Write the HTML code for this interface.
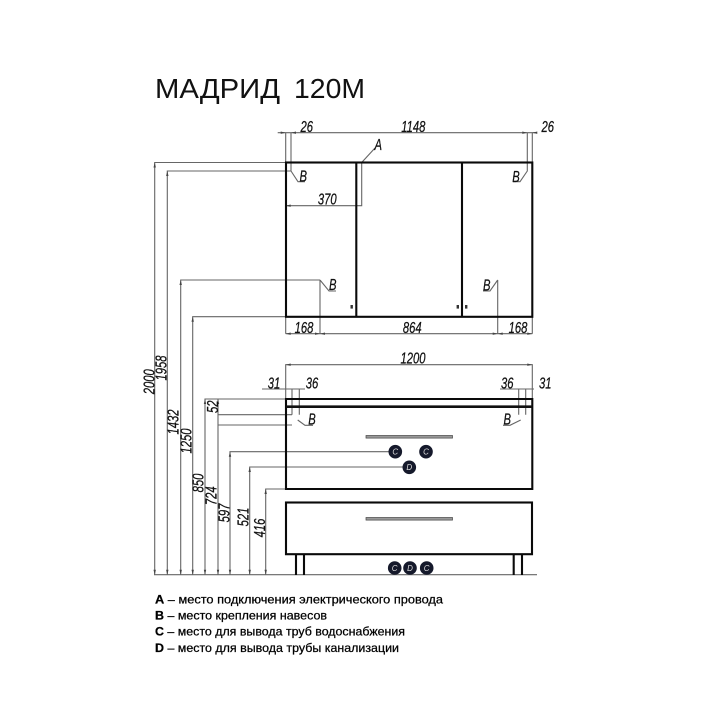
<!DOCTYPE html>
<html><head><meta charset="utf-8"><style>
html,body{margin:0;padding:0;background:#fff;width:718px;height:720px;overflow:hidden}
svg{display:block;filter:blur(.35px)}
.d{font:italic 15px "Liberation Sans",sans-serif;fill:#111;stroke:#111;stroke-width:.25;text-anchor:middle}
.c{font:italic 8px "Liberation Sans",sans-serif;fill:#ddd;text-anchor:middle}
.l{font:12.2px "Liberation Sans",sans-serif;fill:#000;stroke:#000;stroke-width:.25}
.l tspan{font-weight:bold}
.g{stroke:#666;stroke-width:1.1;fill:none}
.k{stroke:#0a0a0a;stroke-width:2.1;fill:none}
</style></head><body>
<svg width="718" height="720" viewBox="0 0 718 720" xmlns="http://www.w3.org/2000/svg">
<rect width="718" height="720" fill="#fff"/>
<text x="155" y="98" font-family="Liberation Sans" font-size="28" fill="#111" textLength="125" lengthAdjust="spacingAndGlyphs">МАДРИД</text>
<text x="294" y="98" font-family="Liberation Sans" font-size="28" fill="#111" textLength="71" lengthAdjust="spacingAndGlyphs">120М</text>

<!-- thin dimension lines -->
<g class="g">
<path d="M154.7 574.7V162.5H286M167.3 574.7V171H291M180.7 574.7V280H320M192.7 574.7V316.7H286"/>
<path d="M205 574.7V399H286M218 574.7V399H286M218 414.7H292M218 425H292M230 574.7V451.7H392M249.7 574.7V467H405M265.7 574.7V489H286"/>
<path d="M154 574.7H537"/>
<path d="M277.7 132.7H535M285.7 132.7V162M291 132.7V171L298 181.7H305M527.3 132.7V171L520 181.7H513M532.3 132.7V162"/>
<path d="M285.7 205.7H361.7V162.5L375 148"/>
<path d="M285.7 333.7H532.3M285.7 317V333.7M320 280V333.7M320 280L329 291H336M497.7 280V333.7M497.7 280L490 291H483M532.3 317V333.7"/>
<path d="M285.7 399V364.7H532.3V399"/>
<path d="M262 389H305M500 389H534"/>
<path d="M292 389V414.7M299.3 389V414.7" />
<path d="M518.7 389V414.7M525.7 389V414.7"/>
<path d="M297.7 420L305 425.3H313M520.7 420L510 425.3H503"/>
</g>

<!-- arrow ticks -->
<g fill="#444">
<path d="M154.7 162.5l-1.2 5h2.4zM167.3 171l-1.2 5h2.4zM180.7 280l-1.2 5h2.4zM192.7 316.7l-1.2 5h2.4zM205 399l-1.2 5h2.4zM218 399l-1.2 5h2.4zM230 451.7l-1.2 5h2.4zM249.7 467l-1.2 5h2.4zM265.7 489l-1.2 5h2.4z"/>
<path d="M154.7 574.7l-1.2-5h2.4zM167.3 574.7l-1.2-5h2.4zM180.7 574.7l-1.2-5h2.4zM192.7 574.7l-1.2-5h2.4zM205 574.7l-1.2-5h2.4zM218 574.7l-1.2-5h2.4zM230 574.7l-1.2-5h2.4zM249.7 574.7l-1.2-5h2.4zM265.7 574.7l-1.2-5h2.4z"/>
<path d="M285.7 205.7l5-1.2v2.4zM285.7 364.7l5-1.2v2.4zM532.3 364.7l-5-1.2v2.4zM285.7 333.7l5-1.2v2.4zM532.3 333.7l-5-1.2v2.4zM320 333.7l-5-1.2v2.4zM497.7 333.7l5-1.2v2.4zM497.7 333.7l-5-1.2v2.4zM320 333.7l5-1.2v2.4z"/>
<path d="M285.7 132.7l-5-1.2v2.4zM291 132.7l5-1.2v2.4zM527.3 132.7l-5-1.2v2.4zM532.3 132.7l5-1.2v2.4z"/>
</g>

<!-- cabinets -->
<g class="k">
<rect x="286" y="162.5" width="246.3" height="154.3"/>
<path d="M356.3 162.5V316.8M462 162.5V316.8"/>
<path d="M286 399H532.3V489H286ZM286 406.7H532.3" />
<rect x="286" y="502.5" width="246" height="51.7"/>
<path d="M296 554V575M304 554V575M513.7 554V575M522 554V575"/>
</g>
<path d="M286 406.7H532.3" stroke="#111" stroke-width="2.6"/>

<!-- handles -->
<rect x="366" y="435.5" width="86.5" height="2.6" fill="#999" stroke="#444" stroke-width=".7"/>
<rect x="366" y="517.5" width="86.5" height="2.6" fill="#999" stroke="#444" stroke-width=".7"/>

<!-- small squares -->
<g fill="#333">
<rect x="350.5" y="305" width="2.4" height="3.6"/>
<rect x="456.6" y="305" width="2.4" height="3.6"/>
<rect x="465" y="305" width="2.4" height="3.6"/>
</g>

<!-- circles -->
<g fill="#15192b">
<circle cx="395.3" cy="451.7" r="6.8"/>
<circle cx="426" cy="451.7" r="6.8"/>
<circle cx="409.3" cy="467.3" r="6.8"/>
<circle cx="394.7" cy="568" r="6.8"/>
<circle cx="410" cy="568" r="6.8"/>
<circle cx="426.7" cy="568" r="6.8"/>
</g>
<text class="c" x="395.3" y="454.5">C</text>
<text class="c" x="426" y="454.5">C</text>
<text class="c" x="409.3" y="470">D</text>
<text class="c" x="394.7" y="571">C</text>
<text class="c" x="410" y="571">D</text>
<text class="c" x="426.7" y="571">C</text>

<!-- horizontal labels -->
<g class="d">
<text transform="translate(306.7 132) scale(.75 1.02)">26</text>
<text transform="translate(413.3 132) scale(.75 1.02)">1148</text>
<text transform="translate(547.7 132) scale(.75 1.02)">26</text>
<text transform="translate(378.3 150) scale(.75 1.02)">A</text>
<text transform="translate(327.3 204.5) scale(.75 1.02)">370</text>
<text transform="translate(304 333) scale(.75 1.02)">168</text>
<text transform="translate(412.3 333) scale(.75 1.02)">864</text>
<text transform="translate(518 333) scale(.75 1.02)">168</text>
<text transform="translate(413 363.5) scale(.75 1.02)">1200</text>
<text transform="translate(274 388.5) scale(.75 1.02)">31</text>
<text transform="translate(312 388.5) scale(.75 1.02)">36</text>
<text transform="translate(507.3 388.5) scale(.75 1.02)">36</text>
<text transform="translate(545.3 388.5) scale(.75 1.02)">31</text>
<text transform="translate(303.3 181.5) scale(.75 1.02)">B</text>
<text transform="translate(516 182) scale(.75 1.02)">B</text>
<text transform="translate(332.7 290) scale(.75 1.02)">B</text>
<text transform="translate(486.7 290.5) scale(.75 1.02)">B</text>
<text transform="translate(312 424.5) scale(.75 1.02)">B</text>
<text transform="translate(507.3 424.5) scale(.75 1.02)">B</text>
</g>

<!-- rotated labels -->
<g class="d">
<text transform="translate(154.5 381.7) rotate(-90) scale(.75 1.02)">2000</text>
<text transform="translate(166.5 368) rotate(-90) scale(.75 1.02)">1958</text>
<text transform="translate(178.5 422) rotate(-90) scale(.75 1.02)">1432</text>
<text transform="translate(191.5 441) rotate(-90) scale(.75 1.02)">1250</text>
<text transform="translate(203.5 483) rotate(-90) scale(.75 1.02)">850</text>
<text transform="translate(216.5 495.7) rotate(-90) scale(.75 1.02)">724</text>
<text transform="translate(229.5 513) rotate(-90) scale(.75 1.02)">597</text>
<text transform="translate(248.5 517) rotate(-90) scale(.75 1.02)">521</text>
<text transform="translate(265 528) rotate(-90) scale(.75 1.02)">416</text>
<text transform="translate(218 406.7) rotate(-90) scale(.75 1.02)">52</text>
</g>

<!-- legend -->
<text class="l" x="155" y="603.5" textLength="288" lengthAdjust="spacingAndGlyphs"><tspan>A</tspan> – место подключения электрического провода</text>
<text class="l" x="155" y="619.7" textLength="172" lengthAdjust="spacingAndGlyphs"><tspan>B</tspan> – место крепления навесов</text>
<text class="l" x="155" y="635.7" textLength="250" lengthAdjust="spacingAndGlyphs"><tspan>C</tspan> – место для вывода труб водоснабжения</text>
<text class="l" x="155" y="652" textLength="244" lengthAdjust="spacingAndGlyphs"><tspan>D</tspan> – место для вывода трубы канализации</text>
</svg>
</body></html>
